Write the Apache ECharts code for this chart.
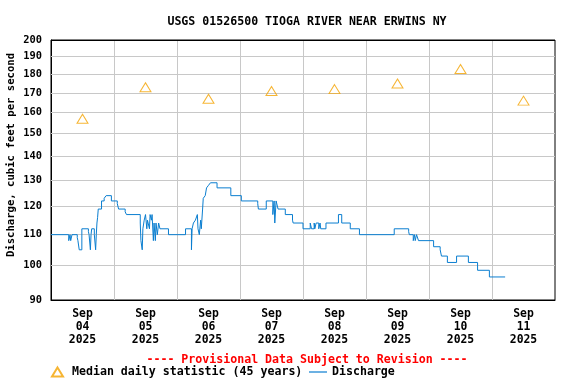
<!DOCTYPE html>
<html>
<head>
<meta charset="utf-8">
<script src="https://cdn.jsdelivr.net/npm/echarts@6/dist/echarts.min.js"></script>
<style>
  html, body { margin: 0; padding: 0; background: #fff; }
  #chart { width: 576px; height: 384px; }
</style>
</head>
<body>
<div id="chart"></div>
<script>
// day bands on the x axis (labels sit at noon of each day)
const days = ['04', '05', '06', '07', '08', '09', '10', '11'];
// median daily statistic, one per day
const medianCfs = [157, 173, 167, 171, 172, 175, 183, 166];
// discharge change points: hours since Sep 04 00:00, and the value from that time on
const flowHours = [
  0, 6.75, 7.25, 7.5, 8, 10, 10.25, 10.75, 11.75, 14.25,
  14.5, 15, 15.25, 15.5, 16.5, 17, 17.25, 17.5, 17.75, 18,
  19.25, 20.25, 21, 23, 25.25, 25.75, 28.25, 28.75, 34, 34.25,
  34.75, 35, 35.5, 36, 36.5, 36.75, 37, 37.5, 37.75, 38.25,
  38.5, 39, 39.25, 39.75, 40, 40.5, 41, 41.5, 44.75, 51.25,
  53.5, 53.75, 54.25, 55, 55.75, 56, 56.5, 57, 57.25, 57.75,
  58, 58.75, 59.25, 60, 60.75, 63.25, 68.5, 72.5, 78.75, 79,
  82, 84.5, 85, 85.25, 85.75, 86.5, 89.25, 92, 92.25, 96,
  98.75, 99.25, 100.25, 100.5, 101, 102, 102.5, 102.75, 104.75, 109.5,
  110.75, 114, 117.5, 130.75, 136.25, 136.5, 138, 138.5, 138.75, 139.25,
  140, 145.75, 148.25, 148.75, 151, 154.5, 159, 162.5, 167, 173
];
const flowCfs = [
  110, 108, 110, 108, 110, 109, 108, 105, 112, 111,
  110, 105, 110, 112, 110, 105, 110, 114, 116, 119,
  122, 123, 124, 122, 121, 119, 118, 117, 114, 108,
  105, 112, 115, 117, 112, 115, 114, 112, 117, 115,
  117, 108, 114, 108, 114, 110, 114, 112, 110, 112,
  105, 112, 114, 115, 117, 112, 110, 115, 112, 119,
  123, 124, 127, 128, 129, 127, 124, 122, 121, 119,
  122, 117, 122, 114, 122, 119, 117, 115, 114, 112,
  114, 112, 114, 112, 114, 112, 114, 112, 114, 117,
  114, 112, 110, 112, 111, 110, 108, 110, 108, 110,
  108, 106, 105, 103, 101, 103, 101, 98.6, 96.6, 96.6
];
// y tick labels (log scale)
const yTicks = [90, 100, 110, 120, 130, 140, 150, 160, 170, 180, 190, 200];

const font = 'DejaVu Sans Mono';
const chart = echarts.init(document.getElementById('chart'));

const options = {
  animation: false,
  backgroundColor: '#fff',
  title: [
    {
      text: 'USGS 01526500 TIOGA RIVER NEAR ERWINS NY',
      left: 302, top: 11, textAlign: 'center',
      textStyle: { fontFamily: font, fontSize: 11.6, fontWeight: 'bold', color: '#000' }
    },
    {
      text: '---- Provisional Data Subject to Revision ----',
      left: 302, top: 349, textAlign: 'center',
      textStyle: { fontFamily: font, fontSize: 11.6, fontWeight: 'bold', color: '#ff0000' }
    }
  ],
  graphic: [
    {
      type: 'text', x: 11, y: 155, rotation: Math.PI / 2,
      style: {
        text: 'Discharge, cubic feet per second',
        font: 'bold 10.6px "DejaVu Sans Mono"',
        fill: '#000', align: 'center', verticalAlign: 'middle'
      }
    }
  ],
  grid: {
    left: 51, right: 21, top: 40, bottom: 84,
    show: true, borderColor: '#000', borderWidth: 1
  },
  legend: [
    {
      data: ['Median daily statistic (45 years)'],
      left: 51, top: 366, padding: 0, itemWidth: 11, itemHeight: 9,
      textStyle: { fontFamily: font, fontSize: 11.6, fontWeight: 'bold', color: '#000', padding: [0, 0, 0, 4] }
    },
    {
      data: [{ name: 'Discharge', icon: 'rect' }],
      left: 309, top: 366, padding: 0, itemWidth: 18, itemHeight: 1.2,
      textStyle: { fontFamily: font, fontSize: 11.6, fontWeight: 'bold', color: '#000' }
    }
  ],
  xAxis: [
    {
      type: 'category',
      data: days.map(d => 'Sep\n' + d + '\n2025'),
      boundaryGap: true,
      axisLine: { show: true, lineStyle: { color: '#000', width: 1 } },
      axisTick: { show: false },
      axisLabel: {
        interval: 0, margin: 8, lineHeight: 13,
        fontFamily: font, fontSize: 11.4, fontWeight: 'bold', color: '#000'
      },
      splitLine: {
        show: true, interval: 0, showMinLine: false, showMaxLine: false,
        lineStyle: { color: '#c8c8c8', width: 1 }
      }
    },
    { type: 'value', min: 0, max: 192, show: false }
  ],
  yAxis: {
    type: 'log', logBase: 10, min: 90, max: 200,
    axisLine: { show: true, lineStyle: { color: '#000', width: 1 } },
    axisTick: { show: false },
    axisLabel: { show: false },
    splitLine: { show: false }
  },
  series: [
    {
      // horizontal grid lines and their labels, placed by the log axis
      name: 'ygrid',
      type: 'line',
      xAxisIndex: 1,
      data: [],
      z: 1,
      silent: true,
      markLine: {
        z: 1,
        silent: true,
        symbol: ['none', 'none'],
        animation: false,
        label: {
          position: 'start', distance: 9,
          fontFamily: font, fontSize: 10.4, fontWeight: 'bold', color: '#000',
          formatter: p => String(p.value)
        },
        lineStyle: { color: '#c8c8c8', width: 1, type: 'solid' },
        emphasis: { disabled: true },
        data: yTicks.map(v => ({
          yAxis: v,
          lineStyle: (v === 90 || v === 200) ? { color: '#000', width: 1, type: 'solid' } : undefined
        }))
      }
    },
    {
      name: 'Discharge',
      type: 'line',
      xAxisIndex: 1,
      step: 'end',
      symbol: 'none',
      z: 6,
      lineStyle: { color: '#0a7ed0', width: 1 },
      itemStyle: { color: '#0a7ed0' },
      data: flowHours.map((h, i) => [h, flowCfs[i]])
    },
    {
      name: 'Median daily statistic (45 years)',
      type: 'scatter',
      xAxisIndex: 0,
      symbol: 'triangle',
      symbolSize: [11, 9],
      z: 7,
      itemStyle: { color: 'rgba(255,255,255,0)', borderColor: '#f4a300', borderWidth: 1 },
      data: medianCfs
    }
  ]
};

chart.setOption(options);
</script>
</body>
</html>
